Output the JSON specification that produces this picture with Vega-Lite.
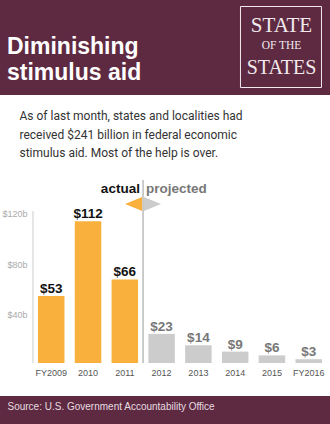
{
  "$schema": "https://vega.github.io/schema/vega-lite/v6.json",
  "width": 330,
  "height": 301,
  "autosize": {"type": "none"},
  "padding": {"top": 95, "left": 0, "right": 0, "bottom": 28},
  "background": "#5E2A41",
  "config": {
    "view": {"fill": "#ffffff", "stroke": null},
    "font": "Liberation Sans"
  },
  "title": {
    "text": ["Diminishing", "stimulus aid"],
    "color": "#ffffff",
    "font": "Liberation Sans",
    "fontSize": 23,
    "fontWeight": "bold",
    "anchor": "start",
    "frame": "group",
    "dx": 7,
    "lineHeight": 26,
    "offset": -80
  },
  "data": {
    "values": [
      {"year": "FY2009", "aid": 53, "label": "$53", "period": "actual"},
      {"year": "2010", "aid": 112, "label": "$112", "period": "actual"},
      {"year": "2011", "aid": 66, "label": "$66", "period": "actual"},
      {"year": "2012", "aid": 23, "label": "$23", "period": "projected"},
      {"year": "2013", "aid": 14, "label": "$14", "period": "projected"},
      {"year": "2014", "aid": 9, "label": "$9", "period": "projected"},
      {"year": "2015", "aid": 6, "label": "$6", "period": "projected"},
      {"year": "FY2016", "aid": 3, "label": "$3", "period": "projected"}
    ]
  },
  "layer": [
    {
      "mark": {"type": "bar"},
      "encoding": {
        "x": {
          "field": "year",
          "type": "nominal",
          "sort": null,
          "scale": {
            "type": "band",
            "domain": ["FY2009", "2010", "2011", "2012", "2013", "2014", "2015", "FY2016"],
            "paddingInner": 0.28,
            "paddingOuter": 0.625,
            "align": 0.826,
            "round": false
          },
          "axis": {
            "orient": "bottom",
            "offset": -33,
            "domain": false,
            "ticks": false,
            "grid": false,
            "labelAngle": 0,
            "labelPadding": 5.5,
            "labelFontSize": 9,
            "labelColor": "#555555",
            "labelFont": "Liberation Sans",
            "title": "Source: U.S. Government Accountability Office",
            "titleX": 7,
            "titleY": 46.5,
            "titleAlign": "left",
            "titleBaseline": "alphabetic",
            "titleFont": "Liberation Sans",
            "titleFontSize": 10,
            "titleFontWeight": "normal",
            "titleColor": "#E6DCE0",
            "titleLimit": 400
          }
        },
        "y": {
          "field": "aid",
          "type": "quantitative",
          "scale": {"domain": [-26.07, 211.69], "nice": false, "zero": false},
          "axis": {
            "orient": "left",
            "offset": -33,
            "values": [40, 80, 120],
            "domain": false,
            "ticks": false,
            "grid": false,
            "labelPadding": 6,
            "labelOffset": 2.5,
            "labelBaseline": "middle",
            "labelFontSize": 9,
            "labelColor": "#AAAAAA",
            "labelFont": "Liberation Sans",
            "labelExpr": "'$' + datum.value + 'b'",
            "title": [
              "As of last month, states and localities had",
              "received $241 billion in federal economic",
              "stimulus aid. Most of the help is over."
            ],
            "titleAngle": 0,
            "titleX": -14,
            "titleY": 24.5,
            "titleAlign": "left",
            "titleBaseline": "alphabetic",
            "titleFont": "Roboto",
            "titleFontSize": 12,
            "titleFontWeight": "normal",
            "titleColor": "#333333",
            "titleLineHeight": 18.5,
            "titleLimit": 400
          }
        },
        "color": {
          "field": "period",
          "type": "nominal",
          "scale": {"domain": ["actual", "projected"], "range": ["#F9B03C", "#CCCCCC"]},
          "legend": null
        }
      }
    },
    {
      "mark": {"type": "text", "dy": -3, "baseline": "alphabetic", "fontSize": 13.5, "fontWeight": "bold", "font": "Liberation Sans"},
      "encoding": {
        "x": {"field": "year", "type": "nominal", "sort": null},
        "y": {"field": "aid", "type": "quantitative"},
        "text": {"field": "label"},
        "color": {"condition": {"test": "datum.period == 'actual'", "value": "#111111"}, "value": "#777777"}
      }
    },
    {
      "data": {"values": [{}]},
      "mark": {"type": "rule", "color": "#DDDDDD", "strokeWidth": 1.5},
      "encoding": {
        "x": {"datum": "FY2009", "bandPosition": -0.19},
        "y": {"datum": 0},
        "y2": {"datum": 120}
      }
    },
    {
      "data": {"values": [{}]},
      "mark": {"type": "rule", "color": "#BBBBBB", "strokeWidth": 1.5},
      "encoding": {
        "x": {"datum": "2012", "bandPosition": -0.2},
        "y": {"datum": 0},
        "y2": {"datum": 144.5}
      }
    },
    {
      "data": {"values": [{}]},
      "mark": {"type": "point", "shape": "M1,-0.82L-1,0L1,0.82Z", "filled": true, "opacity": 1, "size": 289, "color": "#F9B03C"},
      "encoding": {
        "x": {"datum": "2011", "bandPosition": 0.834},
        "y": {"datum": 125.6}
      }
    },
    {
      "data": {"values": [{}]},
      "mark": {"type": "point", "shape": "M-1,-0.82L1,0L-1,0.82Z", "filled": true, "opacity": 1, "size": 289, "color": "#CCCCCC"},
      "encoding": {
        "x": {"datum": "2012", "bandPosition": 0.155},
        "y": {"datum": 125.6}
      }
    },
    {
      "data": {"values": [{"t": "actual"}]},
      "mark": {"type": "text", "align": "right", "baseline": "alphabetic", "fontSize": 13.5, "fontWeight": "bold", "color": "#111111", "font": "Liberation Sans"},
      "encoding": {
        "x": {"datum": "2011", "bandPosition": 1.07},
        "y": {"datum": 134},
        "text": {"field": "t"}
      }
    },
    {
      "data": {"values": [{"t": "projected"}]},
      "mark": {"type": "text", "align": "left", "baseline": "alphabetic", "fontSize": 13.5, "fontWeight": "bold", "color": "#777777", "font": "Liberation Sans"},
      "encoding": {
        "x": {"datum": "2012", "bandPosition": -0.09},
        "y": {"datum": 134},
        "text": {"field": "t"}
      }
    },
    {
      "data": {"values": [{}]},
      "mark": {"type": "point", "shape": "square", "filled": false, "opacity": 1, "size": 6561, "stroke": "#F1E9EC", "strokeWidth": 1},
      "encoding": {
        "x": {"datum": "2015", "bandPosition": 0.84},
        "y": {"datum": 249.6}
      }
    },
    {
      "data": {"values": [{"t": "STATE"}]},
      "mark": {"type": "text", "align": "center", "baseline": "alphabetic", "fontSize": 21, "font": "Liberation Serif", "color": "#F1E9EC"},
      "encoding": {
        "x": {"datum": "2015", "bandPosition": 0.86},
        "y": {"datum": 261.7},
        "text": {"field": "t"}
      }
    },
    {
      "data": {"values": [{"t": "OF THE"}]},
      "mark": {"type": "text", "align": "center", "baseline": "alphabetic", "fontSize": 11.5, "font": "Liberation Serif", "color": "#F1E9EC"},
      "encoding": {
        "x": {"datum": "2015", "bandPosition": 0.86},
        "y": {"datum": 248.4},
        "text": {"field": "t"}
      }
    },
    {
      "data": {"values": [{"t": "STATES"}]},
      "mark": {"type": "text", "align": "center", "baseline": "alphabetic", "fontSize": 20, "font": "Liberation Serif", "color": "#F1E9EC"},
      "encoding": {
        "x": {"datum": "2015", "bandPosition": 0.86},
        "y": {"datum": 228.3},
        "text": {"field": "t"}
      }
    }
  ]
}
